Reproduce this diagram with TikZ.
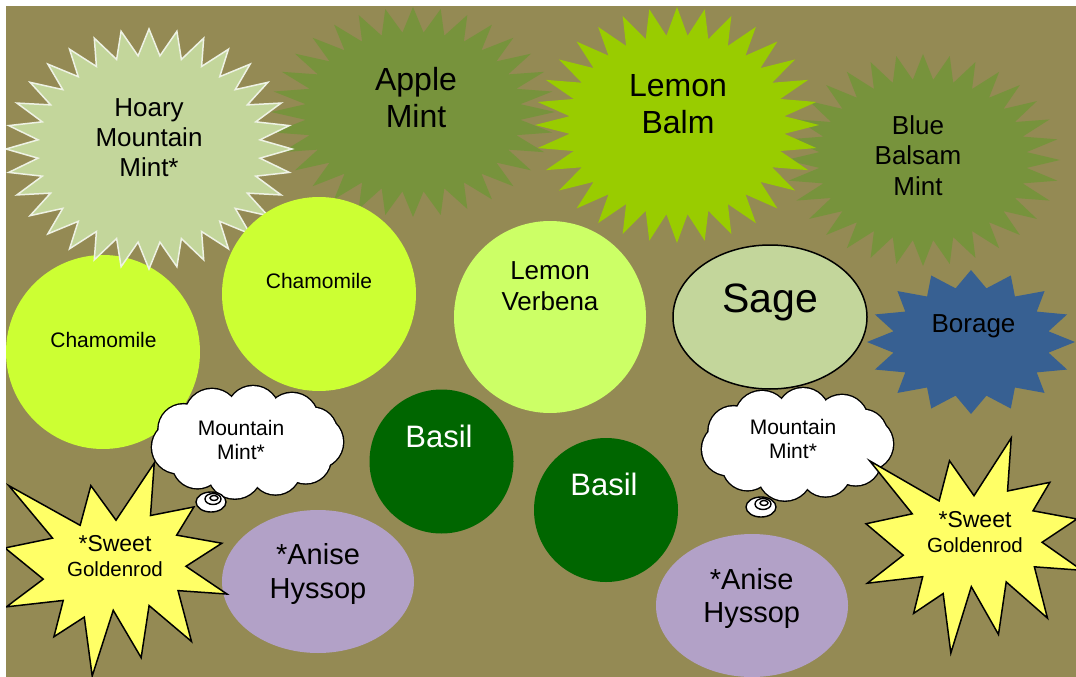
\documentclass[tikz,border=0pt]{standalone}
\usepackage{fontspec}
\setmainfont{Liberation Sans}

% Couleurs du plan
\definecolor{fond}{HTML}{948A54}
\definecolor{vertmenthe}{HTML}{77933C}
\definecolor{vertbaume}{HTML}{99CC00}
\definecolor{sauge}{HTML}{C3D69B}
\definecolor{bordblanc}{HTML}{EEF2E4}
\definecolor{camomille}{HTML}{CCFF33}
\definecolor{verveine}{HTML}{CCFF66}
\definecolor{bourrache}{HTML}{376092}
\definecolor{basilic}{HTML}{006600}
\definecolor{hysope}{HTML}{B2A1C7}
\definecolor{verge}{HTML}{FFFF66}

\tikzset{
  txt/.style={align=center, text=black, inner sep=0pt},
  bulle/.style={draw=black, line width=1.4pt}
}

% Etoile à branches (style, centre, rx, ry, branches, rapport)
\newcommand{\etoile}[6]{%
  \begin{scope}[shift={#2}]
    \pgfmathsetmacro{\rxi}{#3*#6}
    \pgfmathsetmacro{\ryi}{#4*#6}
    \path[#1] (-90:{#3} and {#4})
      \foreach \k in {1,...,#5} {
        -- ({-90+(\k-0.5)*360/#5}:{\rxi} and {\ryi})
        -- ({-90+\k*360/#5}:{#3} and {#4})
      } -- cycle;
  \end{scope}}

% Explosion (style, x, y, largeur, hauteur)
\newcommand{\explosion}[5]{%
  \pgfmathsetmacro{\ex}{#4/216}
  \pgfmathsetmacro{\ey}{#5/216}
  \begin{scope}[shift={(#2,#3)}, x=\ex pt, y=-\ey pt]
    \path[#1] (108,58) -- (145.22,0) -- (141.55,53.25) -- (183.8,44.57)
      -- (167.02,73.15) -- (210.97,81.37) -- (176.07,104.75) -- (216,132.9)
      -- (168.37,129.42) -- (181.45,180.95) -- (140.2,144.57) -- (132.47,197.37)
      -- (105.32,149.35) -- (84.85,216) -- (77.15,156.27) -- (47.62,176.17)
      -- (56.67,139.37) -- (1.35,145.87) -- (37.22,117.75) -- (0,86.15)
      -- (46.27,76.17) -- (3.7,22.95) -- (73.12,63.2) -- (83.52,22.95) -- cycle;
  \end{scope}}

% Nuage (centre, queue)
\newcommand{\nuage}[2]{%
  \begin{scope}[shift={#1}]
    \foreach \a/\r in {0/26,33/25,66/25,100/27,135/25,170/26,205/25,240/27,275/26,310/26,340/24}
      \draw[line width=2.8pt] (\a:70 and 30) circle[radius=\r];
    \foreach \a/\r in {0/26,33/25,66/25,100/27,135/25,170/26,205/25,240/27,275/26,310/26,340/24}
      \fill[white] (\a:70 and 30) circle[radius=\r];
    \fill[white] (0,0) ellipse[x radius=70, y radius=30];
  \end{scope}
  \begin{scope}[shift={#2}]
    \filldraw[bulle, fill=white] (0,0) ellipse[x radius=15, y radius=10];
    \draw[bulle] (2,-3) ellipse[x radius=8, y radius=5.5];
    \draw[bulle] (3,-4) ellipse[x radius=4, y radius=2.5];
  \end{scope}}

\begin{document}
\begin{tikzpicture}[x=1pt, y=-1pt]

% Cadre du jardin
\useasboundingbox (0,0) rectangle (1076,677);
\fill[fond] (6,6) rectangle (1076,677);
\clip (6,6) rectangle (1076,677);

% Menthes et mélisse
\etoile{fill=vertmenthe}{(413,112)}{142}{105}{32}{0.76}
\etoile{fill=vertmenthe}{(923,160)}{137}{106}{32}{0.76}
\etoile{fill=vertbaume}{(677,125)}{142}{118}{32}{0.76}

% Camomilles et menthe blanche
\fill[camomille] (103,352) circle[radius=97];
\etoile{fill=sauge, draw=bordblanc, line width=1.5pt}{(149,149)}{143}{120}{32}{0.78}
\fill[camomille] (319,294) circle[radius=97];

% Verveine, sauge, bourrache
\fill[verveine] (550,317) circle[radius=96];
\filldraw[fill=sauge, draw=black, line width=1.5pt] (770,317) ellipse[x radius=97, y radius=72];
\etoile{fill=bourrache}{(971,342)}{104}{72}{16}{0.76}

% Basilic et hysope
\fill[basilic] (441.5,461.5) circle[radius=72];
\fill[basilic] (606,510) circle[radius=72];
\fill[hysope] (318,581.5) ellipse[x radius=96, y radius=71.5];
\fill[hysope] (752,605.5) ellipse[x radius=96, y radius=71.5];

% Verges d'or et nuages
\explosion{fill=verge, draw=black, line width=1.5pt}{5}{463}{222}{213}
\nuage{(247,442)}{(211,502)}
\nuage{(797,444)}{(761,507)}
\explosion{fill=verge, draw=black, line width=1.5pt}{866}{438}{216}{215}

% Noms des plantes
\node[txt, font=\fontsize{26}{30}\selectfont] (hoary) at (149,137.7) {Hoary\\Mountain\\Mint*};
\node[txt, font=\fontsize{32}{37}\selectfont] (applemint) at (416,98) {Apple\\Mint};
\node[txt, font=\fontsize{32}{37}\selectfont] (lemonbalm) at (678,104) {Lemon\\Balm};
\node[txt, font=\fontsize{26}{30.5}\selectfont] (bluebalsam) at (918,155.2) {Blue\\Balsam\\Mint};
\node[txt, font=\fontsize{21}{24}\selectfont] (cham1) at (103.5,340.3) {Chamomile};
\node[txt, font=\fontsize{21}{24}\selectfont] (cham2) at (319,281.3) {Chamomile};
\node[txt, font=\fontsize{26}{31}\selectfont] (verbena) at (550,286.2) {Lemon\\Verbena};
\node[txt, font=\fontsize{41}{46}\selectfont] (sage) at (770,302.3) {Sage};
\node[txt, font=\fontsize{26}{30}\selectfont] (borage) at (973.5,326.5) {Borage};
\node[txt, font=\fontsize{21}{24}\selectfont] (mint1) at (241,439.5) {Mountain\\Mint*};
\node[txt, font=\fontsize{21}{24}\selectfont] (mint2) at (793,439) {Mountain\\Mint*};
\node[txt, text=white, font=\fontsize{31}{36}\selectfont] (basil1) at (439,436.9) {Basil};
\node[txt, text=white, font=\fontsize{31}{36}\selectfont] (basil2) at (604,484.9) {Basil};
\node[txt, font=\fontsize{29}{34}\selectfont] (anise1) at (318,573.6) {*Anise\\Hyssop};
\node[txt, font=\fontsize{29}{33}\selectfont] (anise2) at (751.7,598) {*Anise\\Hyssop};
\node[txt, font=\fontsize{20.5}{25}\selectfont] (gold1) at (115,556) {{\fontsize{23}{25}\selectfont *Sweet}\\Goldenrod};
\node[txt, font=\fontsize{20.5}{25}\selectfont] (gold2) at (975,532) {{\fontsize{23}{25}\selectfont *Sweet}\\Goldenrod};

\end{tikzpicture}
\end{document}
